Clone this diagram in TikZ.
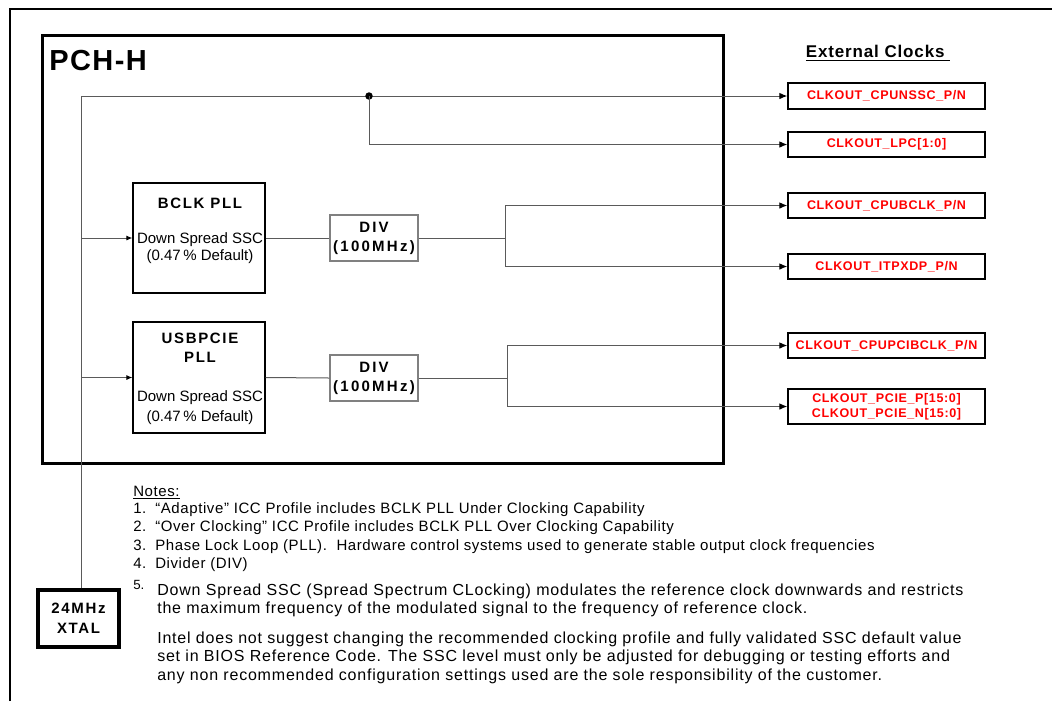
\documentclass[tikz,border=0pt]{standalone}
\usepackage{fontspec}
\setmainfont{Liberation Sans}
\newfontfamily\spcA[LetterSpace=11]{Liberation Sans}
\newfontfamily\spcD[LetterSpace=15]{Liberation Sans}
\newfontfamily\spcB[LetterSpace=5]{Liberation Sans}
\newfontfamily\spcN[LetterSpace=4]{Liberation Sans}
\newfontfamily\spcM[LetterSpace=5]{Liberation Sans}
\usetikzlibrary{arrows.meta}
\definecolor{lred}{RGB}{255,0,0}
\definecolor{lineg}{RGB}{90,90,90}
\tikzset{
  pll/.style={draw=black, line width=0.9pt, minimum width=132*0.75pt, minimum height=110*0.75pt, inner sep=0},
  divbox/.style={draw=black!50, line width=0.9pt, minimum width=88*0.75pt, minimum height=46*0.75pt, inner sep=0, align=center, font=\spcD\bfseries\fontsize{11.25}{14.25}\selectfont},
  outbox/.style={draw=black, line width=1.1pt, minimum width=197*0.75pt, minimum height=25*0.75pt, inner sep=0, align=center, text=lred, font=\spcB\bfseries\fontsize{9.4}{11.25}\selectfont},
  wire/.style={draw=lineg, line width=0.75pt},
  arr/.style={wire, -{Latex[length=6pt,width=5pt,color=black]}},
  sarr/.style={wire, -{Latex[length=4.5pt,width=3.8pt,color=black]}},
  ttl/.style={inner sep=0, font=\spcA\bfseries\fontsize{11.25}{14}\selectfont},
  desc/.style={inner sep=0, font=\fontsize{11.25}{14}\selectfont},
  note/.style={inner sep=0, anchor=base west, font=\spcN\fontsize{11.25}{14}\selectfont},
  noteb/.style={inner sep=0, anchor=base west, font=\spcM\fontsize{12}{14}\selectfont},
}
\begin{document}
\begin{tikzpicture}[x=0.75pt, y=-0.75pt]
\useasboundingbox (0,0) rectangle (1052,701);
\fill[white] (0,0) rectangle (1052,701);
% outer frame
\draw[line width=1.1pt] (10,701) -- (10,9) -- (1052,9);
% PCH-H block
\node[draw, line width=2.3pt, minimum width=681*0.75pt, minimum height=428*0.75pt, anchor=north west, inner sep=0] (pch) at (41,34) {};
\node[anchor=base west, inner sep=0, font=\spcB\bfseries\fontsize{21.75}{26}\selectfont] (pchl) at (49,70) {PCH-H};
% External clocks title
\node[inner sep=0, font=\spcB\bfseries\fontsize{12.75}{15}\selectfont] (ext) at (878,53) {\underline{External Clocks\ }};
% output boxes
\node[outbox, minimum height=26*0.75pt] (o1) at (886.5,96) {CLKOUT\_CPUNSSC\_P/N};
\node[outbox] (o2) at (886.5,144.5) {CLKOUT\_LPC[1:0]};
\node[outbox] (o3) at (886.5,205.5) {CLKOUT\_CPUBCLK\_P/N};
\node[outbox] (o4) at (886.5,266.5) {CLKOUT\_ITPXDP\_P/N};
\node[outbox] (o5) at (886.5,345.5) {CLKOUT\_CPUPCIBCLK\_P/N};
\node[outbox, minimum height=35*0.75pt] (o6) at (886.5,406.5) {CLKOUT\_PCIE\_P[15:0]\\CLKOUT\_PCIE\_N[15:0]};
% PLL boxes
\node[pll] (bclk) at (199,238) {};
\node[ttl] (bclkt) at (200,203) {BCLK PLL};
\node[desc] (bclkd1) at (200,239.5) {Down Spread SSC};
\node[desc] (bclkd2) at (200,256.5) {(0.47\,\% Default)};
\node[pll, minimum height=111*0.75pt] (usb) at (199,377.5) {};
\node[ttl] (usbt1) at (200,338) {USBPCIE};
\node[ttl] (usbt2) at (200,357) {PLL};
\node[desc] (usbd1) at (200,397.5) {Down Spread SSC};
\node[desc] (usbd2) at (200,417.5) {(0.47\,\% Default)};
% dividers
\node[divbox] (div1) at (374,238) {DIV\\(100MHz)};
\node[divbox] (div2) at (374,378) {DIV\\(100MHz)};
% crystal
\node[draw, line width=2.3pt, minimum width=81*0.75pt, minimum height=57*0.75pt, inner sep=0, align=center, font=\spcA\bfseries\fontsize{11.25}{15}\selectfont] (xtal) at (78.5,618.5) {24MHz\\XTAL};
% wiring
\coordinate (trunk) at (81,96);
\coordinate (j) at (369,96);
\coordinate (s1) at (505,238);
\coordinate (s2) at (507,378);
\draw[arr] (xtal.north -| trunk) -- (trunk) -- (o1.west);
\fill[black] (j) circle (2.8pt);
\draw[arr] (j) |- (o2.west);
\draw[sarr] (trunk |- bclk) -- (bclk.west);
\draw[wire] (bclk.east) -- (div1.west);
\draw[wire] (div1.east) -- (s1);
\draw[arr] (s1) |- (o3.west);
\draw[arr] (s1) |- (o4.west);
\draw[sarr] (trunk |- usb) -- (usb.west);
\draw[wire] (usb.east) -- (div2.west);
\draw[wire] (div2.east) -- (s2);
\draw[arr] (s2) |- (o5.west);
\draw[arr] (s2) |- (o6.west);
% notes
\node[note] (nh) at (133,496.5) {\underline{Notes:}};
\node[note] (n1n) at (133,513) {1.};
\node[note] (n1) at (155,513) {“Adaptive” ICC Profile includes BCLK PLL Under Clocking Capability};
\node[note] (n2n) at (133,531.5) {2.};
\node[note] (n2) at (155,531.5) {“Over Clocking” ICC Profile includes BCLK PLL Over Clocking Capability};
\node[note] (n3n) at (133,550) {3.};
\node[note] (n3) at (155,550) {Phase Lock Loop (PLL).\ \ Hardware control systems used to generate stable output clock frequencies};
\node[note] (n4n) at (133,568.5) {4.};
\node[note] (n4) at (155,568.5) {Divider (DIV)};
\node[note, font=\fontsize{10}{12}\selectfont] (n5n) at (133,589) {5.};
\node[noteb] (n5a) at (157,595) {Down Spread SSC (Spread Spectrum CLocking) modulates the reference clock downwards and restricts};
\node[noteb] (n5b) at (157,613) {the maximum frequency of the modulated signal to the frequency of reference clock.};
\node[noteb] (p1) at (157,643) {Intel does not suggest changing the recommended clocking profile and fully validated SSC default value};
\node[noteb] (p2) at (157,661.5) {set in BIOS Reference Code. The SSC level must only be adjusted for debugging or testing efforts and};
\node[noteb] (p3) at (157,680) {any non recommended configuration settings used are the sole responsibility of the customer.};
\end{tikzpicture}
\end{document}
